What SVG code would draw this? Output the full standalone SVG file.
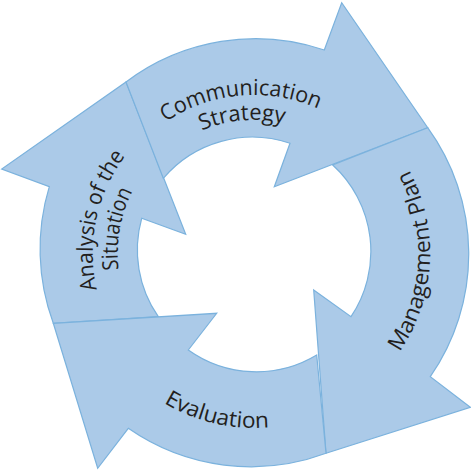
<svg xmlns="http://www.w3.org/2000/svg" width="471" height="470" viewBox="0 0 471 470">
  <style>
    .arrow { fill: #abcae8; stroke: #7bb2dd; stroke-width: 1.2; stroke-linejoin: miter; }
    .lbl { font-family: "Open Sans", "Noto Sans", sans-serif; font-size: 22px; fill: #231f20; text-anchor: middle; }
  </style>
  <defs>
    <path id="pComm1" d="M 96,253 A 158 158 0 0 1 409.6,225.6"/>
    <path id="pComm2" d="M 121,253 A 133 133 0 0 1 385,229.9"/>
    <path id="pAna1" d="M 206.9,407 A 161 161 0 0 1 273.6,93.2"/>
    <path id="pAna2" d="M 218.8,384.4 A 136 136 0 0 1 265.9,117.5"/>
    <path id="pMan" d="M 260.1,428.9 A 176 176 0 0 0 278.5,78.7"/>
    <path id="pEva" d="M 80.7,228.6 A 175 175 0 0 0 420.4,307.1"/>
  </defs>
  <rect width="471" height="470" fill="#ffffff"/>
  <g id="connectors"></g>
  <g id="analysis">
    <path class="arrow" d="M 53.3,323.3 A 215 215 0 0 1 49.3,186.7 L 1.7,169 L 126,82 L 185.7,234.3 L 141.7,218.3 A 117 117 0 0 0 158.3,316.7 Z"/>
    <text class="lbl"><textPath href="#pAna1" startOffset="50%" textLength="141" lengthAdjust="spacingAndGlyphs">Analysis of the</textPath></text>
    <text class="lbl"><textPath href="#pAna2" startOffset="50%" textLength="81" lengthAdjust="spacingAndGlyphs">Situation</textPath></text>
  </g>
  <g id="communication">
    <path class="arrow" d="M 126,82 A 215 215 0 0 1 324.3,50 L 341.7,2.7 L 427.7,127.7 L 274.3,186.7 L 290,143.3 A 117 117 0 0 0 163.3,178.3 Z"/>
    <text class="lbl"><textPath href="#pComm1" startOffset="50%" textLength="160" lengthAdjust="spacingAndGlyphs">Communication</textPath></text>
    <text class="lbl"><textPath href="#pComm2" startOffset="50%" textLength="84" lengthAdjust="spacingAndGlyphs">Strategy</textPath></text>
  </g>
  <g id="management">
    <path class="arrow" d="M 427.7,127.7 A 215 215 0 0 1 430.3,376.7 L 470.3,407.3 L 326,453.3 L 313.7,290 L 351,316.7 A 117 117 0 0 0 332.7,165 Z"/>
    <text class="lbl"><textPath href="#pMan" startOffset="50%" textLength="192" lengthAdjust="spacingAndGlyphs">Management Plan</textPath></text>
  </g>
  <g id="evaluation">
    <path class="arrow" d="M 326,453.3 A 215 215 0 0 1 128.3,428.3 L 97.7,468.3 L 53.3,323.3 L 216.7,313.3 L 188.3,350 A 117 117 0 0 0 316.7,355 Z"/>
    <text class="lbl"><textPath href="#pEva" startOffset="50%" textLength="110" lengthAdjust="spacingAndGlyphs">Evaluation</textPath></text>
  </g>
</svg>
